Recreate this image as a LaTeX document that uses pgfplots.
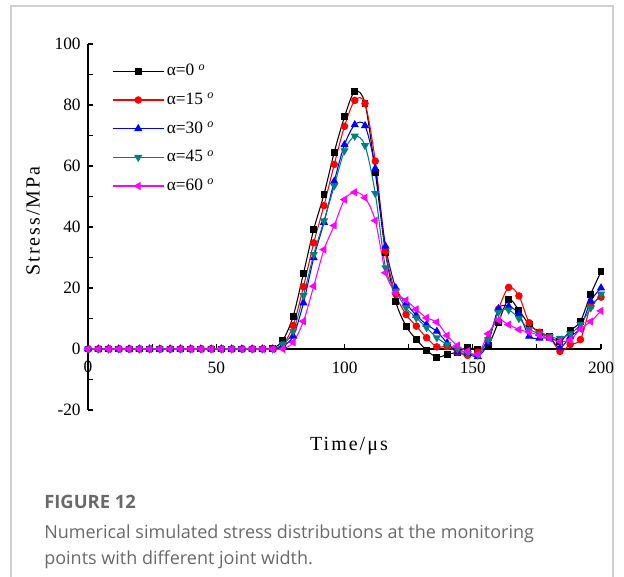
\documentclass[border=0pt]{standalone}
\usepackage{fontspec}
\setmainfont{Liberation Serif}
\newfontfamily\capfont{Open Sans}
\newfontfamily\labfont[LetterSpace=10]{Liberation Serif}
\usepackage{pgfplots}
\pgfplotsset{compat=1.18}
\usepackage{pgfplotstable}
\definecolor{tealc}{RGB}{0,128,128}
\definecolor{magc}{RGB}{255,0,255}
\definecolor{redc}{RGB}{255,0,0}
\definecolor{bluec}{RGB}{0,0,255}
\definecolor{capgray}{RGB}{105,105,105}
\definecolor{framegray}{RGB}{208,208,208}

\pgfplotstableread{
t   a     b     c     d     e
0   0     0     0     0     0
4   0     0     0     0     0
8   0     0     0     0     0
12  0     0     0     0     0
16  0     0     0     0     0
20  0     0     0     0     0
24  0     0     0     0     0
28  0     0     0     0     0
32  0     0     0     0     0
36  0     0     0     0     0
40  0     0     0     0     0
44  0     0     0     0     0
48  0     0     0     0     0
52  0     0     0     0     0
56  0     0     0     0     0
60  0     0     0     0     0
64  0     0     0     0     0
68  0     0     0     0     0
72  0.2   0.1   0     0     0
76  2.9   1.5   1.0   1.5   0
80  10.8  7.7   4.2   5.8   2.2
84  24.8  20.4  15.1  17.5  9.1
88  39.2  34.8  29.9  31.0  20.6
92  50.7  47.0  41.5  42.0  32.6
96  64.5  60.5  55.0  53.5  40.5
100 76.1  73.0  67.0  65.0  49.0
104 84.5  81.5  73.5  69.8  51.4
108 80.5  80.5  73.2  66.7  49.6
112 58.0  61.6  59.2  51.0  42.1
116 31.5  32.0  33.7  26.6  25.0
120 15.5  18.0  20.0  19.0  18.4
124 7.5   11.3  15.0  13.5  16.0
128 3.1   7.5   11.0  10.2  13.0
132 -0.4  3.7   8.0   7.0   10.2
136 -2.7  0.7   5.8   3.7   8.8
140 -1.8  0.8   2.0   1.5   4.4
144 -1.0  -1.0  -1.0  0.0   1.1
148 0.4   -2.1  -1.5  -1.5  -0.7
152 -0.2  -1.0  -2.5  -2.0  -1.8
156 1.1   3.0   2.0   3.0   5.0
160 8.8   13.0  13.2  12.0  9.5
164 16.3  20.2  14.0  12.8  8.0
168 12.7  17.4  11.5  10.0  6.4
172 8.0   8.6   4.2   6.5   5.5
176 5.5   5.5   3.5   5.0   4.5
180 4.0   4.0   3.5   4.0   3.5
184 2.5   -0.8  0.4   3.5   2.5
188 6.0   1.5   4.0   5.0   3.0
192 9.1   3.1   7.0   8.0   6.5
196 18.0  14.0  15.7  13.5  9.0
200 25.3  17.0  20.0  18.0  12.5
}\data

\begin{document}
\begin{tikzpicture}
\useasboundingbox (0,0) rectangle (468pt,432.75pt);
\draw[framegray, line width=0.8pt] (8.25pt,0) -- (8.25pt,428.25pt) -- (459.75pt,428.25pt) -- (459.75pt,0);
\begin{axis}[
  at={(66pt,125.25pt)}, anchor=south west,
  scale only axis, width=384.75pt, height=274.5pt,
  xmin=0, xmax=200, ymin=-20, ymax=100,
  clip=false,
  axis x line=middle, axis y line=left,
  axis line style={-, line width=1pt, black},
  every inner x axis line/.append style={-},
  every outer y axis line/.append style={-},
  xtick={0,50,...,200}, ytick={-20,0,...,100},
  minor x tick num=1, minor y tick num=1,
  tick align=inside,
  major tick length=3.5pt, minor tick length=3.5pt,
  tick style={black, line width=0.9pt},
  ticklabel style={font=\fontsize{13}{15}\selectfont},
  /pgf/number format/assume math mode=true,
  xticklabel style={yshift=-6.5pt},
  yticklabel style={xshift=-2pt},
  legend cell align=left,
  legend style={at={(0.047,0.957)}, anchor=north west, draw=none, fill=none,
    inner sep=0pt, row sep=4.5pt,
    font=\fontsize{13}{15}\selectfont,
    nodes={text height=10pt, text depth=3pt}},
  legend image code/.code={\draw[mark repeat=2, mark phase=2, #1] plot coordinates {(0pt,0pt) (19pt,0pt) (38pt,0pt)};},
]
\addplot[black, line width=0.8pt, smooth, mark=square*, mark size=2.2pt, mark options={solid}] table[x=t,y=a]{\data};
\addlegendentry{α=0 \textsuperscript{\textit{o}}}
\addplot[redc, line width=0.8pt, smooth, mark=*, mark size=2.4pt, mark options={solid}] table[x=t,y=b]{\data};
\addlegendentry{α=15 \textsuperscript{\textit{o}}}
\addplot[bluec, line width=0.8pt, smooth, mark=triangle*, mark size=2.8pt, mark options={solid}] table[x=t,y=c]{\data};
\addlegendentry{α=30 \textsuperscript{\textit{o}}}
\addplot[tealc, line width=0.8pt, smooth, mark=triangle*, mark size=2.8pt, mark options={solid, rotate=180}] table[x=t,y=d]{\data};
\addlegendentry{α=45 \textsuperscript{\textit{o}}}
\addplot[magc, line width=0.8pt, smooth, mark=triangle*, mark size=2.8pt, mark options={solid, rotate=90}] table[x=t,y=e]{\data};
\addlegendentry{α=60 \textsuperscript{\textit{o}}}
\node[anchor=north, inner sep=0pt, font=\fontsize{13}{15}\selectfont, yshift=-8.5pt] at (axis cs:0,0) {0};
\end{axis}
\node[rotate=90, font=\labfont\fontsize{15}{18}\selectfont] at (24.75pt,267pt) {Stress/MPa};
\node[font=\labfont\fontsize{15}{18}\selectfont] at (261.75pt,98.25pt) {Time/μs};
\node[anchor=base west, inner sep=0pt, text=capgray, font=\capfont\bfseries\fontsize{13.8}{16}\selectfont] at (33pt,51pt) {FIGURE 12};
\node[anchor=base west, inner sep=0pt, text=capgray, font=\capfont\fontsize{13.5}{16}\selectfont] at (33pt,29pt) {Numerical simulated stress distributions at the monitoring};
\node[anchor=base west, inner sep=0pt, text=capgray, font=\capfont\fontsize{13.5}{16}\selectfont] at (33pt,9.2pt) {points with different joint width.};
\end{tikzpicture}
\end{document}
